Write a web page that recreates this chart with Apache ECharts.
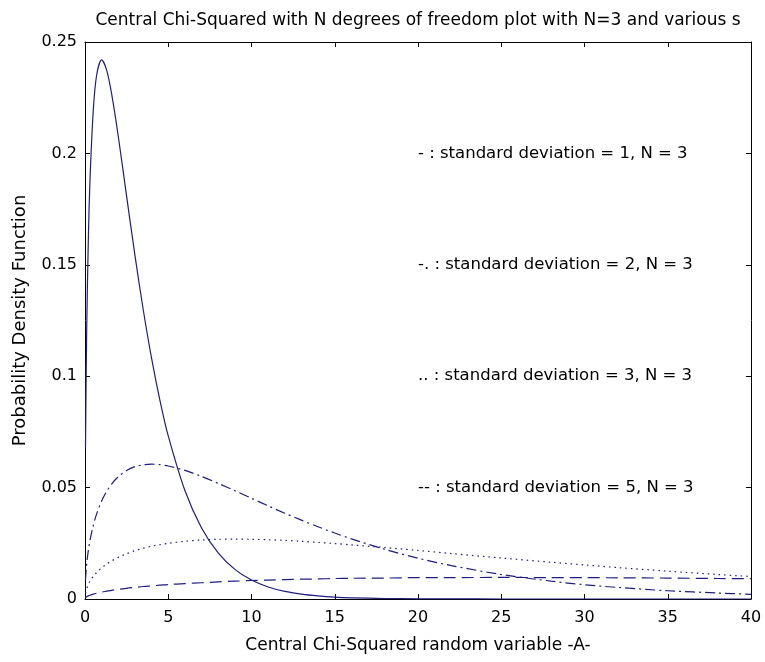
<!DOCTYPE html>
<html>
<head>
<meta charset="utf-8">
<script src="https://cdn.jsdelivr.net/npm/echarts@6/dist/echarts.min.js"></script>
<style>
  html, body { margin: 0; padding: 0; background: #ffffff; }
  #chart { width: 765px; height: 662px; }
</style>
</head>
<body>
<div id="chart"></div>
<script>
// Sample positions along the random-variable axis
const xValues = [0.03, 0.1, 0.2, 0.3, 0.5, 0.7, 1, 1.3, 1.6, 2, 2.5, 3, 3.5, 4, 4.5, 5,
  6, 7, 8, 9, 10, 11, 12, 13, 14, 15, 16, 18, 20, 22, 25, 28, 30, 32, 35, 38, 40];

// Density values for each standard deviation (N = 3)
const sd1 = [0.0681, 0.1200, 0.1614, 0.1881, 0.2197, 0.2352, 0.2420, 0.2374, 0.2267, 0.2076,
  0.1807, 0.1542, 0.1297, 0.1080, 0.0892, 0.0732, 0.0487, 0.0319, 0.0207, 0.0133, 0.0085,
  0.0054, 0.0034, 0.0022, 0.0014, 0.00085, 0.00054, 0.00021, 0.00008, 0.00003, 0.00001,
  0, 0, 0, 0, 0, 0];
const sd2 = [0.0086, 0.0156, 0.0218, 0.0263, 0.0331, 0.0382, 0.0440, 0.0483, 0.0516, 0.0549,
  0.0577, 0.0594, 0.0602, 0.0605, 0.0603, 0.0597, 0.0577, 0.0550, 0.0519, 0.0486, 0.0452,
  0.0418, 0.0385, 0.0354, 0.0324, 0.0296, 0.0270, 0.0223, 0.0183, 0.0150, 0.0110, 0.0080,
  0.0064, 0.0052, 0.0037, 0.0027, 0.0021];
const sd3 = [0.0026, 0.0046, 0.0065, 0.0080, 0.0102, 0.0119, 0.0140, 0.0157, 0.0171, 0.0187,
  0.0203, 0.0217, 0.0228, 0.0237, 0.0244, 0.0250, 0.0259, 0.0265, 0.0268, 0.0269, 0.0268,
  0.0266, 0.0263, 0.0259, 0.0254, 0.0249, 0.0243, 0.0231, 0.0218, 0.0204, 0.0184, 0.0165,
  0.0153, 0.0141, 0.0125, 0.0110, 0.0101];
const sd5 = [0.00055, 0.0010, 0.0014, 0.0017, 0.0022, 0.0026, 0.0031, 0.0035, 0.0039, 0.0043,
  0.0048, 0.0052, 0.0056, 0.0059, 0.0062, 0.0065, 0.0069, 0.0073, 0.0077, 0.0080, 0.0083,
  0.0085, 0.0087, 0.0089, 0.0090, 0.0092, 0.0093, 0.0094, 0.0096, 0.0096, 0.0097, 0.0096,
  0.0096, 0.0095, 0.0094, 0.0092, 0.0091];

// Axis ranges and tick labels
const xTicks = [0, 5, 10, 15, 20, 25, 30, 35, 40];
const yTickLabels = ['0', '0.05', '0.1', '0.15', '0.2', '0.25'];

// In-plot notes describing the line styles
const noteX = [20, 20, 20, 20];
const noteY = [0.2, 0.15, 0.1, 0.05];
const noteText = [
  '- : standard deviation = 1, N = 3',
  '-. : standard deviation = 2, N = 3',
  '.. : standard deviation = 3, N = 3',
  '-- : standard deviation = 5, N = 3'
];

const lineColor = '#1e1e80';
const textColor = '#000000';
const font = 'DejaVu Sans';

const zip = (ys) => xValues.map((x, i) => [x, ys[i]]);

const chart = echarts.init(document.getElementById('chart'), null, { renderer: 'canvas' });

const baseX = {
  type: 'value', min: xTicks[0], max: xTicks[xTicks.length - 1], interval: 5,
  axisLine: { show: true, onZero: false, lineStyle: { color: '#000', width: 1 } },
  axisTick: { show: true, inside: true, length: 5, lineStyle: { color: '#000' } },
  splitLine: { show: false }
};
const baseY = {
  type: 'value', min: 0, max: 0.25, interval: 0.05,
  axisLine: { show: true, onZero: false, lineStyle: { color: '#000', width: 1 } },
  axisTick: { show: true, inside: true, length: 5, lineStyle: { color: '#000' } },
  splitLine: { show: false }
};

const lineSeries = (name, ys, type) => ({
  name, type: 'line', data: zip(ys), showSymbol: false, symbol: 'none',
  smooth: 0.3, clip: true,
  lineStyle: { color: lineColor, width: 1.2, type },
  emphasis: { disabled: true }
});

chart.setOption({
  animation: false,
  backgroundColor: '#ffffff',
  title: {
    text: 'Central Chi-Squared with N degrees of freedom plot with N=3 and various s',
    left: 413, top: 7, textAlign: 'center',
    textStyle: { fontFamily: font, fontSize: 17, fontWeight: 'normal', color: textColor }
  },
  grid: { left: 85, right: 14, top: 42, bottom: 63, containLabel: false },
  xAxis: [
    Object.assign({}, baseX, {
      position: 'bottom',
      name: 'Central Chi-Squared random variable -A-',
      nameLocation: 'middle', nameGap: 38,
      nameTextStyle: { fontFamily: font, fontSize: 17, color: textColor },
      axisLabel: { show: true, margin: 11, fontFamily: font, fontSize: 16, color: textColor }
    }),
    Object.assign({}, baseX, { position: 'top', axisLabel: { show: false } })
  ],
  yAxis: [
    Object.assign({}, baseY, {
      position: 'left',
      name: 'Probability Density Function',
      nameLocation: 'middle', nameGap: 56,
      nameTextStyle: { fontFamily: font, fontSize: 18, color: textColor },
      axisLabel: {
        show: true, margin: 8, fontFamily: font, fontSize: 16, color: textColor,
        formatter: (v) => yTickLabels[Math.round(v / 0.05)]
      }
    }),
    Object.assign({}, baseY, { position: 'right', axisLabel: { show: false } })
  ],
  series: [
    lineSeries('sd1', sd1, 'solid'),
    lineSeries('sd2', sd2, [10, 4, 2, 4]),
    lineSeries('sd3', sd3, [1.5, 4]),
    lineSeries('sd5', sd5, [12, 6]),
    {
      name: 'notes', type: 'scatter', symbolSize: 0, silent: true,
      itemStyle: { color: textColor, opacity: 1 },
      data: noteX.map((x, i) => ({
        value: [x, noteY[i]],
        label: { formatter: noteText[i], color: textColor }
      })),
      label: {
        show: true, position: 'right', distance: 0, opacity: 1,
        fontFamily: font, fontSize: 16.5, color: textColor
      },
      emphasis: { disabled: true }
    }
  ]
});
</script>
</body>
</html>
